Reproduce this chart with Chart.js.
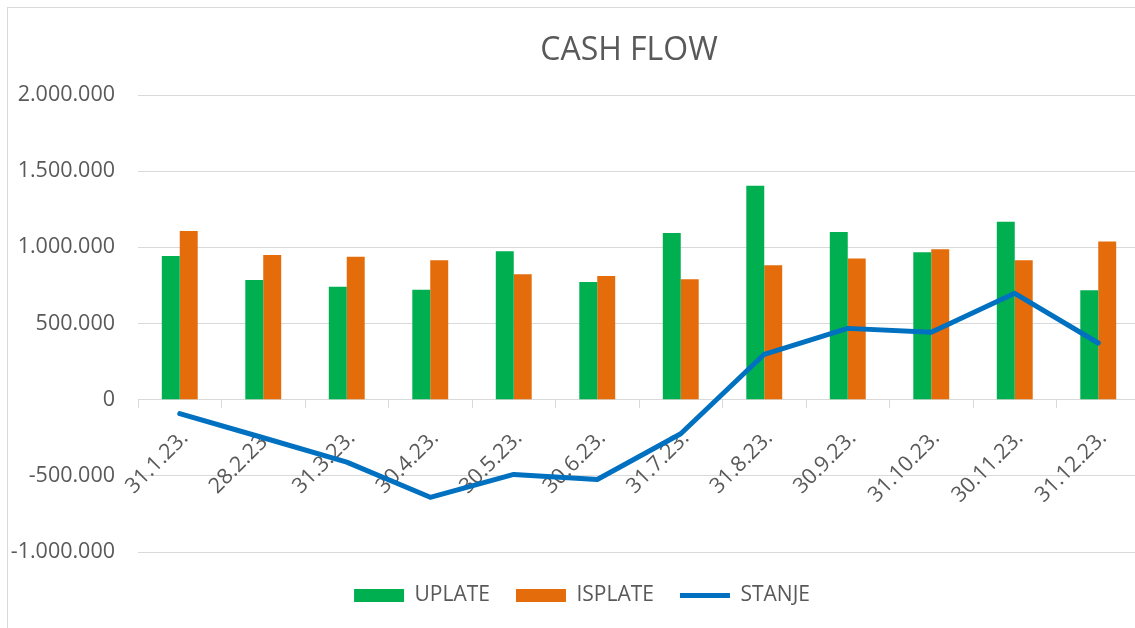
<!DOCTYPE html>
<html>
<head>
<meta charset="utf-8">
<script src="https://cdn.jsdelivr.net/npm/chart.js@4"></script>
<style>
  html, body { margin: 0; padding: 0; background: #fff; overflow: hidden; }
  .frame {
    position: absolute; left: 7px; top: 7px;
    width: 1188px; height: 630px;
    border: 1px solid #d9d9d9;
  }
  canvas { display: block; }
</style>
</head>
<body>
<div class="frame">
  <canvas id="cashflow" width="1188" height="620"></canvas>
</div>
<script>
// ── data ───────────────────────────────────────────────
const labels = ['31.1.23.', '28.2.23.', '31.3.23.', '30.4.23.', '30.5.23.', '30.6.23.',
  '31.7.23.', '31.8.23.', '30.9.23.', '31.10.23.', '30.11.23.', '31.12.23.'];
const uplate = [943000, 785000, 741000, 721000, 975000, 772000, 1094000, 1405000, 1100000, 967000, 1168000, 719000];
const isplate = [1107000, 949000, 938000, 916000, 824000, 811000, 791000, 883000, 927000, 988000, 916000, 1038000];
const stanje = [-92000, -250000, -410000, -641000, -491000, -524000, -224000, 298000, 468000, 442000, 698000, 372000];
const yTicks = { min: -1000000, max: 2000000, step: 500000 };

const theme = {
  text: '#595959',
  grid: '#d9d9d9',
  green: '#00b050',
  orange: '#e46c0a',
  blue: '#0070c0',
};

Chart.defaults.font.family = '"Open Sans", sans-serif';
Chart.defaults.color = theme.text;

const dots = v => String(v).replace(/\B(?=(\d{3})+(?!\d))/g, '.');

// Excel places title and legend a bit off the plot-area centre
const boxNudge = {
  id: 'boxNudge',
  afterLayout(chart) {
    if (chart.titleBlock) { chart.titleBlock.left -= 10; chart.titleBlock.right -= 10; }
    if (chart.legend) { chart.legend.left += 8; chart.legend.right += 8; }
  },
};

new Chart(document.getElementById('cashflow'), {
  type: 'bar',
  data: {
    labels,
    datasets: [
      { label: 'UPLATE', data: uplate, backgroundColor: theme.green, borderWidth: 0, order: 1 },
      { label: 'ISPLATE', data: isplate, backgroundColor: theme.orange, borderWidth: 0, order: 1 },
      {
        type: 'line', label: 'STANJE', data: stanje,
        borderColor: theme.blue, backgroundColor: theme.blue, borderWidth: 5,
        borderCapStyle: 'round', borderJoinStyle: 'round',
        pointRadius: 0, tension: 0, fill: false, order: 0,
      },
    ],
  },
  options: {
    responsive: false,
    animation: false,
    devicePixelRatio: 1,
    layout: { padding: { left: 0, right: 56, top: 0, bottom: 12 } },
    datasets: { bar: { categoryPercentage: 0.43, barPercentage: 1 } },
    scales: {
      x: {
        position: { y: 0 },
        grid: { display: true, drawOnChartArea: false, drawTicks: true, tickLength: 8, color: theme.grid },
        border: { display: true, color: theme.grid, width: 1 },
        ticks: {
          color: theme.text, font: { size: 21.5 }, minRotation: 45, maxRotation: 45,
          autoSkip: false, padding: 18, labelOffset: 5,
        },
      },
      y: {
        min: yTicks.min, max: yTicks.max,
        grid: { color: theme.grid, lineWidth: 1, drawTicks: false },
        border: { display: false },
        ticks: { stepSize: yTicks.step, color: theme.text, font: { size: 21.5 }, padding: 23, callback: v => dots(v) },
        afterFit: s => { s.width = 130; },
      },
    },
    plugins: {
      title: {
        display: true, text: 'CASH FLOW', fullSize: false, color: theme.text,
        font: { size: 32, weight: 'normal' }, padding: { top: 24, bottom: 24.6 },
      },
      legend: {
        position: 'bottom',
        // empty title only used as a spacer above the legend row
        title: { display: true, text: '', font: { size: 5 }, padding: { top: 1, bottom: 0 } },
        labels: {
          usePointStyle: true, pointStyleWidth: 50, boxHeight: 13, padding: 26,
          color: theme.text, font: { size: 21 },
          sort: (a, b) => a.datasetIndex - b.datasetIndex,
          generateLabels: chart => Chart.defaults.plugins.legend.labels.generateLabels(chart).map(item => {
            item.pointStyle = item.datasetIndex === 2 ? 'line' : 'rect';
            return item;
          }),
        },
      },
      tooltip: { enabled: false },
    },
  },
  plugins: [boxNudge],
});
</script>
</body>
</html>
